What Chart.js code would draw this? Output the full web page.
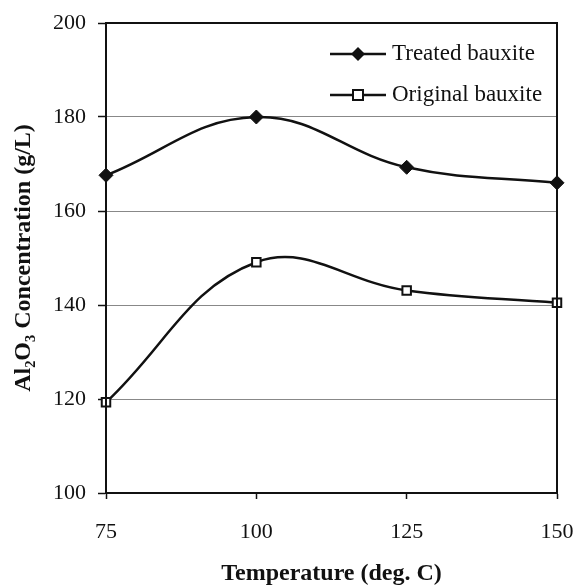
<!DOCTYPE html>
<html>
<head>
<meta charset="utf-8">
<script src="https://cdn.jsdelivr.net/npm/chart.js@4"></script>
<style>
  html, body { margin: 0; padding: 0; background: #fff; }
  #wrap { width: 577px; height: 585px; }
</style>
</head>
<body>
<div id="wrap"><canvas id="chart" width="577" height="585"></canvas></div>
<script>
const temperatures = [75, 100, 125, 150];
const treatedBauxite = [167.6, 180.0, 169.3, 166.0];
const originalBauxite = [119.3, 149.1, 143.1, 140.5];
const xTicks = [75, 100, 125, 150];
const yTicks = [100, 120, 140, 160, 180, 200];

const serif = "'Liberation Serif', 'Times New Roman', serif";

const toPoints = (vals) => temperatures.map((t, i) => ({ x: t, y: vals[i] }));

// frame round the plot area plus the in-plot legend
const framePlugin = {
    id: "frame",
    afterDatasetsDraw(chart) {
        const { ctx, chartArea: a } = chart;
        ctx.save();
        ctx.strokeStyle = "#111";
        ctx.lineWidth = 2;
        ctx.strokeRect(a.left, a.top, a.right - a.left, a.bottom - a.top);

        const rows = [
            { text: "Treated bauxite", style: "diamond", y: a.top + 31 },
            { text: "Original bauxite", style: "square", y: a.top + 72 }
        ];
        const x0 = a.left + 224, x1 = a.left + 280;
        const xm = (x0 + x1) / 2;
        ctx.font = "23px " + serif;
        ctx.textBaseline = "middle";
        ctx.fillStyle = "#111";
        rows.forEach(r => {
            ctx.lineWidth = 2.5;
            ctx.beginPath();
            ctx.moveTo(x0, r.y);
            ctx.lineTo(x1, r.y);
            ctx.stroke();
            if (r.style === "diamond") {
                ctx.beginPath();
                ctx.moveTo(xm, r.y - 7);
                ctx.lineTo(xm + 7, r.y);
                ctx.lineTo(xm, r.y + 7);
                ctx.lineTo(xm - 7, r.y);
                ctx.closePath();
                ctx.fill();
            } else {
                ctx.fillStyle = "#fff";
                ctx.fillRect(xm - 5, r.y - 5, 10, 10);
                ctx.lineWidth = 2;
                ctx.strokeRect(xm - 5, r.y - 5, 10, 10);
                ctx.fillStyle = "#111";
            }
            ctx.fillText(r.text, x1 + 6, r.y);
        });
        ctx.restore();
    }
};

// keep the plot area fixed, ignore label overhang
const noOverhang = (axis) => {
    axis.paddingLeft = 0;
    axis.paddingRight = 0;
    axis.paddingTop = 0;
    axis.paddingBottom = 0;
};

new Chart(document.getElementById("chart"), {
    type: "line",
    data: {
        datasets: [{
            label: "Treated bauxite",
            data: toPoints(treatedBauxite),
            borderColor: "#111",
            backgroundColor: "#111",
            borderWidth: 2.5,
            pointStyle: "rectRot",
            pointRadius: 7,
            pointBorderWidth: 1,
            tension: 0.4,
            clip: false
        }, {
            label: "Original bauxite",
            data: toPoints(originalBauxite),
            borderColor: "#111",
            backgroundColor: "#fff",
            borderWidth: 2.5,
            pointStyle: "rect",
            pointRadius: 6,
            pointBorderWidth: 2,
            tension: 0.4,
            clip: false
        }]
    },
    options: {
        responsive: false,
        animation: false,
        layout: { padding: { top: 23, right: 20, left: 0, bottom: 0 } },
        plugins: { legend: { display: false }, tooltip: { enabled: false } },
        scales: {
            x: {
                type: "linear",
                min: 75,
                max: 150,
                afterBuildTicks: (axis) => { axis.ticks = xTicks.map(v => ({ value: v })); },
                afterFit: (axis) => { axis.height = 92; noOverhang(axis); },
                ticks: { color: "#111", font: { family: serif, size: 22 }, padding: 20 },
                grid: { drawOnChartArea: false, tickLength: 6, tickColor: "#111", tickWidth: 1.5 },
                border: { color: "#111", width: 2 },
                title: {
                    display: true,
                    text: "Temperature (deg. C)",
                    color: "#111",
                    font: { family: serif, size: 24, weight: "bold", lineHeight: 1 },
                    padding: { top: 0, bottom: -1 }
                }
            },
            y: {
                min: 100,
                max: 200,
                afterBuildTicks: (axis) => { axis.ticks = yTicks.map(v => ({ value: v })); },
                afterFit: (axis) => { axis.width = 106; noOverhang(axis); },
                ticks: { color: "#111", font: { family: serif, size: 22 }, padding: 12 },
                grid: {
                    color: (c) => (c.tick && (c.tick.value === 100 || c.tick.value === 200)) ? "rgba(0,0,0,0)" : "#888",
                    lineWidth: 1,
                    tickLength: 8,
                    tickColor: "#111",
                    tickWidth: 1.5
                },
                border: { color: "#111", width: 2 },
                title: {
                    display: true,
                    text: "Al₂O₃ Concentration (g/L)",
                    color: "#111",
                    font: { family: serif, size: 24, weight: "bold", lineHeight: 1 },
                    padding: { top: 12, bottom: 0 }
                }
            }
        }
    },
    plugins: [framePlugin]
});
</script>
</body>
</html>
